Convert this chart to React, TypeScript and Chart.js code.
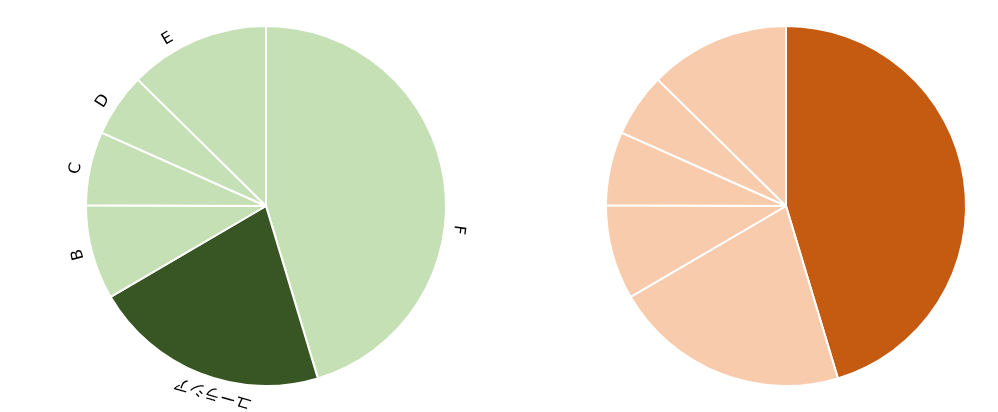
import React, { useEffect, useRef } from "react";
import { Chart, registerables } from "chart.js";
Chart.register(...registerables);

const categories = ["F", "ユーラシア", "B", "C", "D", "E"];
const values = [45.3, 21.2, 8.5, 6.6, 5.7, 12.6];
const leftHighlight = 1;
const rightHighlight = 0;

const greenLight = "#c5e0b4";
const greenDark = "#375623";
const orangeLight = "#f8cbad";
const orangeDark = "#c55a11";

// label angle nudges (degrees, clockwise) to follow the reference placement
const labelShiftDeg = [15.4, -5.6, 0.6, -1, -1.6, -7.8];

const FONT = "16px 'DejaVu Sans', 'Noto Sans CJK JP', sans-serif";

const rotatedLabels = {
  id: "rotatedLabels",
  afterDatasetsDraw(chart: any, _args: any, opts: any) {
    if (!opts || !opts.show) return;
    const ctx = chart.ctx;
    const meta = chart.getDatasetMeta(0);
    ctx.save();
    ctx.font = FONT;
    ctx.fillStyle = "#000";
    ctx.textAlign = "center";
    ctx.textBaseline = "middle";
    meta.data.forEach((arc: any, i: number) => {
      const { startAngle, endAngle, x, y, outerRadius } = arc.getProps(
        ["startAngle", "endAngle", "x", "y", "outerRadius"],
        true
      );
      const mid = (startAngle + endAngle) / 2 + ((labelShiftDeg[i] || 0) * Math.PI) / 180;
      const r = outerRadius + 14;
      ctx.save();
      ctx.translate(x + r * Math.cos(mid), y + r * Math.sin(mid));
      ctx.rotate(mid + Math.PI / 2);
      ctx.fillText(String(chart.data.labels[i]), 0, 0);
      ctx.restore();
    });
    ctx.restore();
  },
};

function PieChart(props: {
  light: string;
  dark: string;
  highlight: number;
  labels: boolean;
  width: number;
  padding: { left: number; right: number; top: number; bottom: number };
}) {
  const ref = useRef<HTMLCanvasElement | null>(null);
  useEffect(() => {
    if (!ref.current) return;
    const colors = values.map((_, i) => (i === props.highlight ? props.dark : props.light));
    const chart = new Chart(ref.current, {
      type: "pie",
      data: {
        labels: categories,
        datasets: [
          {
            data: values,
            backgroundColor: colors,
            borderColor: "#ffffff",
            borderWidth: 2,
          },
        ],
      },
      options: {
        responsive: false,
        animation: false,
        events: [],
        layout: { padding: props.padding },
        plugins: {
          legend: { display: false },
          tooltip: { enabled: false },
          rotatedLabels: { show: props.labels },
        } as any,
      },
      plugins: [rotatedLabels],
    });
    return () => chart.destroy();
  }, []);
  return <canvas ref={ref} width={props.width} height={412} style={{ display: "block" }} />;
}

export default function App() {
  useEffect(() => {
    document.body.style.margin = "0";
  }, []);
  return (
    <div style={{ position: "absolute", left: 0, top: 0, width: 998, height: 412, background: "#fff", overflow: "hidden" }}>
      <div style={{ position: "absolute", left: 0, top: 0 }}>
        <PieChart light={greenLight} dark={greenDark} highlight={leftHighlight} labels={true} width={532}
          padding={{ left: 85, right: 85, top: 25, bottom: 25 }} />
      </div>
      <div style={{ position: "absolute", left: 520, top: 0 }}>
        <PieChart light={orangeLight} dark={orangeDark} highlight={rightHighlight} labels={false} width={478}
          padding={{ left: 85, right: 31, top: 25, bottom: 25 }} />
      </div>
    </div>
  );
}
